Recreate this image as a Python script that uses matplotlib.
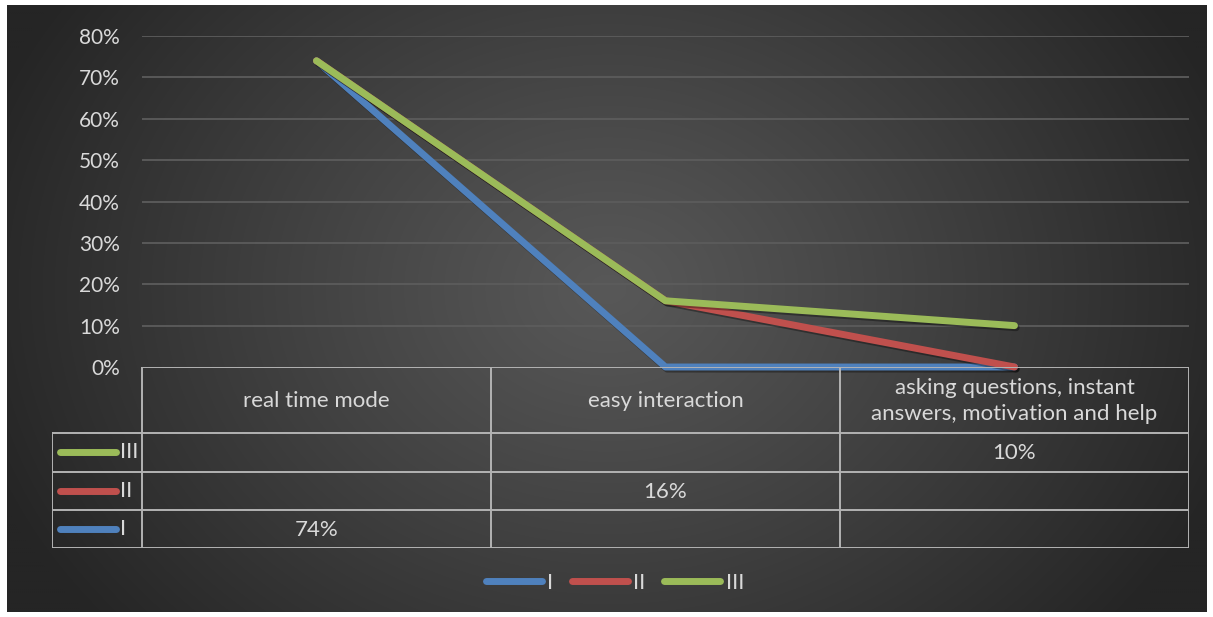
import numpy as np
import matplotlib
matplotlib.use("Agg")
import matplotlib.pyplot as plt
from matplotlib.lines import Line2D
import matplotlib.patheffects as pe

plt.rcParams['font.family'] = ['Lato', 'DejaVu Sans']

# ---- data -------------------------------------------------------------
categories = ["real time mode", "easy interaction",
              "asking questions, instant\nanswers, motivation and help"]
series_names = ["I", "II", "III"]
values_I = [74, np.nan, np.nan]
values_II = [np.nan, 16, np.nan]
values_III = [np.nan, np.nan, 10]
series_colors = ["#4f81bd", "#c0504d", "#9bbb59"]
y_ticks = [0, 10, 20, 30, 40, 50, 60, 70, 80]

TEXT = "#d9d9d9"
GRID = "#5c5c5c"
TABLE_LINE = "#b3b3b3"
FS = 15
FS_TAB = 16
LW = 5.0

W, H = 1213, 617
fig = plt.figure(figsize=(W / 100, H / 100), dpi=100)
fig.patch.set_facecolor("white")

# ---- dark radial background ------------------------------------------
bg = fig.add_axes([7 / W, 5 / H, 1200 / W, 607 / H])
yy, xx = np.mgrid[0:300, 0:600]
cx, cy = 300, 140
r = np.sqrt(((xx - cx) / 330) ** 2 + ((yy - cy) / 260) ** 2)
r = np.clip(r, 0, 1)
inner, outer = 0x58, 0x25
shade = (inner + (outer - inner) * r ** 1.1) / 255
bg.imshow(np.dstack([shade] * 3), aspect="auto", interpolation="bilinear")
bg.axis("off")

# ---- main plot ---------------------------------------------------------
left, right = 142 / W, 1189 / W
bottom, top = (H - 367) / H, (H - 36) / H
ax = fig.add_axes([left, bottom, right - left, top - bottom])
ax.set_facecolor("none")
x = np.arange(len(categories))
ax.set_xlim(-0.5, len(categories) - 0.5)
ax.set_ylim(0, 80)
ax.set_yticks(y_ticks)
ax.set_yticklabels([f"{t}%" for t in y_ticks], color=TEXT, fontsize=FS)
ax.tick_params(axis="y", length=0, pad=16)
ax.tick_params(axis="x", length=0, labelbottom=False)
for s in ax.spines.values():
    s.set_visible(False)
for t in y_ticks[1:]:
    ax.axhline(t, color=GRID, lw=1.3, zorder=1)

all_series = [values_I, values_II, values_III]
stack = np.zeros(len(categories))
shadow = [pe.SimpleLineShadow(offset=(1.2, -1.5), shadow_color="black", alpha=0.35),
          pe.Normal()]
for name, vals, col in zip(series_names, all_series, series_colors):
    stack = stack + np.nan_to_num(np.array(vals, dtype=float))
    ax.plot(x, stack, color=col, lw=LW, solid_capstyle="round",
            solid_joinstyle="round", zorder=3, path_effects=shadow, clip_on=False)

# ---- data table under the plot ----------------------------------------
col_w = 349.3
x_left_key = -0.5 - 90 / col_w
tab = fig.add_axes([52 / W, (H - 548) / H, (1189 - 52) / W, (548 - 367) / H])
tab.set_facecolor("none")
tab.set_xlim(x_left_key, len(categories) - 0.5)
tab.set_ylim(548, 367)
tab.axis("off")

row_edges = [367, 433, 471.5, 510, 548]
lw_t = 1.4
tab.plot([-0.5, 2.5], [row_edges[0]] * 2, color=TABLE_LINE, lw=lw_t, zorder=1)
for yv in row_edges[1:]:
    tab.plot([x_left_key, 2.5], [yv] * 2, color=TABLE_LINE, lw=lw_t)
for xv in [-0.5, 0.5, 1.5, 2.5]:
    tab.plot([xv, xv], [row_edges[0], row_edges[-1]], color=TABLE_LINE, lw=lw_t)
tab.plot([x_left_key] * 2, [row_edges[1], row_edges[-1]], color=TABLE_LINE, lw=lw_t)

for i, c in enumerate(categories):
    tab.text(i, (row_edges[0] + row_edges[1]) / 2 + 1, c, ha="center", va="center",
             color=TEXT, fontsize=FS_TAB, linespacing=1.4)

# rows listed top-down: III, II, I
for k, idx in enumerate([2, 1, 0]):
    y0, y1 = row_edges[k + 1], row_edges[k + 2]
    ym = (y0 + y1) / 2
    key_x0 = x_left_key + 8 / col_w
    key_x1 = x_left_key + 64 / col_w
    tab.plot([key_x0, key_x1], [ym, ym], color=series_colors[idx], lw=LW,
             solid_capstyle="round")
    tab.text(key_x1 + 4 / col_w, ym, series_names[idx], ha="left", va="center",
             color=TEXT, fontsize=FS_TAB)
    for j, v in enumerate(all_series[idx]):
        if not np.isnan(v):
            tab.text(j, ym + 1, f"{v:.0f}%", ha="center", va="center",
                     color=TEXT, fontsize=FS_TAB)

# ---- legend -------------------------------------------------------------
handles = [Line2D([0], [0], color=c, lw=LW, solid_capstyle="round")
           for c in series_colors]
fig.legend(handles, series_names, loc="center", ncol=3, frameon=False,
           bbox_to_anchor=(615 / W, 1 - 583 / H), fontsize=FS_TAB,
           labelcolor=TEXT, handlelength=2.5, handletextpad=0.25,
           columnspacing=0.85)

fig.savefig("out.png", dpi=100, facecolor="white")
